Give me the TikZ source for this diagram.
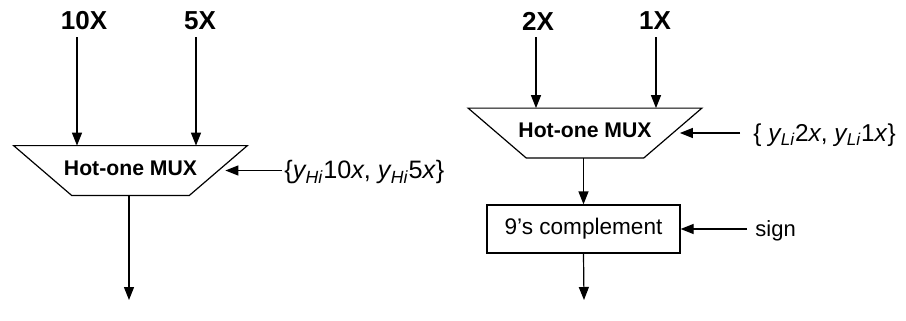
\documentclass[tikz,border=0pt]{standalone}
\usepackage{fontspec}
\setmainfont{Liberation Sans}
\usetikzlibrary{arrows.meta}

\tikzset{
    sig/.style={-{Triangle[length=6.5pt,width=5pt]}, line width=0.6pt},
    muxbox/.style={rectangle, minimum width=116.5pt, minimum height=24.5pt, inner sep=0pt,
        font=\fontsize{10.6}{12}\selectfont\bfseries},
    muxline/.style={draw, line width=0.6pt},
    blockbox/.style={draw, line width=0.6pt, rectangle, minimum width=96.5pt,
        minimum height=24pt, inner sep=0pt, font=\fontsize{11.3}{13}\selectfont},
    inlabel/.style={font=\fontsize{13}{15}\selectfont\bfseries, inner sep=0pt},
    sellabel/.style={anchor=west, inner ysep=0pt, font=\fontsize{12.6}{15}\selectfont}
}
\newcommand{\yi}[1]{\textit{y}\textsubscript{\kern-0.5pt\itshape #1}}

\begin{document}
\begin{tikzpicture}[x=0.5pt, y=-0.5pt]
    \useasboundingbox (0,0) rectangle (906,321);

    % High digit: 10X / 5X
    \node[inlabel] (in10) at (84,21) {10X};
    \node[inlabel] (in5) at (200,21) {5X};
    \node[muxbox] (muxH) at (130.5,170.5) {\raisebox{2.5pt}{Hot-one MUX}};
    \draw[muxline] (muxH.north west) -- (muxH.north east)
        -- ([xshift=-29pt]muxH.south east) -- ([xshift=29pt]muxH.south west) -- cycle;
    \coordinate (muxHin) at ([xshift=-14.5pt]muxH.east);
    \node[sellabel, inner xsep=1pt] (selH) at (282,172)
        {\{\yi{Hi}10\textit{x}, \yi{Hi}5\textit{x}\}};
    \coordinate (a10) at (77,37);
    \coordinate (a5) at (196,37);
    \coordinate (outH) at (129,300);
    \draw[sig] (a10) -- (a10 |- muxH.north);
    \draw[sig] (a5) -- (a5 |- muxH.north);
    \draw[sig, shorten >=3.5pt] (muxHin -| selH.west) -- (muxHin);
    \draw[sig] (muxH.south -| outH) -- (outH);

    % Low digit: 2X / 1X
    \node[inlabel] (in2) at (538,21) {2X};
    \node[inlabel] (in1) at (655,21) {1X};
    \node[muxbox] (muxL) at (585,133) {\raisebox{2.5pt}{Hot-one MUX}};
    \draw[muxline] (muxL.north west) -- (muxL.north east)
        -- ([xshift=-29pt]muxL.south east) -- ([xshift=29pt]muxL.south west) -- cycle;
    \coordinate (muxLin) at ([xshift=-14.5pt]muxL.east);
    \node[sellabel, inner xsep=6.5pt, font=\fontsize{12.2}{15}\selectfont] (selL) at (740,135)
        {\{ \yi{Li}2\textit{x}, \yi{Li}1\textit{x}\}};
    \node[blockbox] (comp) at (583.5,229) {9’s complement};
    \node[sellabel, inner xsep=4pt, font=\fontsize{11}{13}\selectfont] (sgn) at (747,231) {sign};
    \coordinate (a2) at (536,37);
    \coordinate (a1) at (656,37);
    \coordinate (outL) at (584,300);
    \draw[sig] (a2) -- (a2 |- muxL.north);
    \draw[sig] (a1) -- (a1 |- muxL.north);
    \draw[sig, shorten >=3.5pt] (muxLin -| selL.west) -- (muxLin);
    \draw[sig] (muxL.south -| comp.north) -- (comp.north);
    \draw[sig] (comp.east -| sgn.west) -- (comp.east);
    \draw[sig] (comp.south) -- (outL);
\end{tikzpicture}
\end{document}
